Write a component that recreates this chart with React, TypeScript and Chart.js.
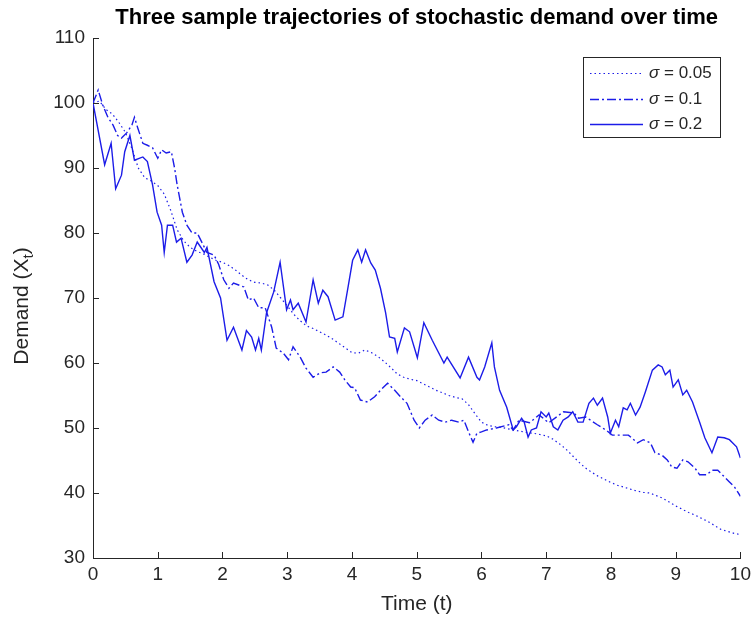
import React, { useEffect, useRef } from 'react';
import { Chart, registerables } from 'chart.js';

Chart.register(...registerables);

const chartTitle = 'Three sample trajectories of stochastic demand over time';
const xLabel = 'Time (t)';
const yLabelMain = 'Demand (X';
const yLabelSub = 't';
const legendNames = ['0.05', '0.1', '0.2'];

const xTickValues = [0, 1, 2, 3, 4, 5, 6, 7, 8, 9, 10];
const yTickValues = [30, 40, 50, 60, 70, 80, 90, 100, 110];

// sigma = 0.05 (dotted)
const sigma005T = [0, 0.1, 0.2, 0.3, 0.4, 0.5, 0.6, 0.7, 0.8, 0.9, 1.0, 1.1, 1.2, 1.3, 1.4, 1.5, 1.6, 1.7, 1.8, 1.9, 2.0,
  2.1, 2.2, 2.3, 2.4, 2.5, 2.6, 2.7, 2.8, 2.9, 3.0, 3.1, 3.2, 3.3, 3.4, 3.5, 3.6, 3.7, 3.8, 3.9, 4.0,
  4.1, 4.2, 4.3, 4.4, 4.5, 4.6, 4.7, 4.8, 4.9, 5.0, 5.1, 5.2, 5.3, 5.4, 5.5, 5.6, 5.7, 5.8, 5.9, 6.0,
  6.1, 6.2, 6.3, 6.4, 6.5, 6.6, 6.7, 6.8, 6.9, 7.0, 7.1, 7.2, 7.3, 7.4, 7.5, 7.6, 7.7, 7.8, 7.9, 8.0,
  8.1, 8.2, 8.3, 8.4, 8.5, 8.6, 8.7, 8.8, 8.9, 9.0, 9.1, 9.2, 9.3, 9.4, 9.5, 9.6, 9.7, 9.8, 9.9, 10.0];
const sigma005V = [100, 100.3, 99, 98.3, 97, 95.5, 93, 90, 88.5, 88, 87.3, 86, 83.5, 80.5, 78.8, 77.8, 77.2, 76.8, 76.3, 75.8, 75.5,
  75, 74.3, 73.5, 72.8, 72.4, 72.3, 72, 71.2, 70, 68.8, 67.5, 66.5, 65.7, 65.3, 64.8, 64.3, 63.7, 63, 62.3, 61.6,
  61.5, 62, 61.6, 61, 60.2, 59.3, 58.3, 57.8, 57.5, 57.3, 56.8, 56.3, 55.8, 55.4, 55, 54.7, 54.5, 53.6, 52.2, 50.9,
  50.4, 50.2, 50.1, 49.9, 49.7, 49.5, 49.3, 49.2, 49.0, 48.8, 48.3, 47.6, 46.8, 45.8, 44.8, 43.9, 43.2, 42.6, 42.1, 41.6,
  41.2, 40.9, 40.6, 40.3, 40.1, 40, 39.6, 39.2, 38.6, 38, 37.5, 37, 36.6, 36.1, 35.6, 35, 34.4, 34.1, 33.8, 33.6];

// sigma = 0.1 (dash-dot)
const sigma01T = [0, 0.08, 0.15, 0.23, 0.31, 0.38, 0.44, 0.52, 0.6, 0.64, 0.69, 0.77, 0.84, 0.92, 1.0, 1.06, 1.13, 1.21,
  1.26, 1.3, 1.38, 1.45, 1.53, 1.61, 1.68, 1.76, 1.87, 1.94, 2.02, 2.1, 2.17, 2.25, 2.33, 2.4, 2.48, 2.56, 2.66,
  2.76, 2.83, 2.94, 3.02, 3.09, 3.2, 3.29, 3.4, 3.51, 3.6, 3.71, 3.81, 3.89, 3.98, 4.04, 4.13, 4.24, 4.35, 4.44,
  4.55, 4.66, 4.75, 4.85, 4.96, 5.04, 5.13, 5.24, 5.34, 5.44, 5.54, 5.65, 5.73, 5.8, 5.87, 5.93, 6.0, 6.08, 6.23,
  6.42, 6.49, 6.58, 6.74, 6.89, 7.04, 7.2, 7.27, 7.43, 7.5, 7.61, 7.79, 7.92, 8.02, 8.27, 8.41, 8.5, 8.61, 8.68,
  8.79, 8.87, 8.94, 9.02, 9.11, 9.19, 9.3, 9.37, 9.48, 9.56, 9.65, 9.72, 9.83, 9.91, 10.0];
const sigma01V = [100, 102, 99.7, 97.8, 96.6, 95, 94.6, 95.4, 96.6, 97.8, 96.2, 93.8, 93.5, 93.1, 91.5, 92.8, 92.3, 92.5,
  90, 87.4, 83.2, 81.2, 80, 80, 78.6, 77, 76.6, 75.2, 72.8, 71.5, 72.3, 72, 71.7, 69.7, 70, 68.5, 68.5,
  65.5, 62.3, 61.5, 60.5, 62.5, 60.9, 59.2, 57.8, 58.5, 58.6, 59.4, 58.6, 57.4, 56.3, 56.2, 54.3, 54, 54.8, 55.8,
  56.9, 55.8, 54.8, 53.8, 51.2, 50, 51.2, 52, 51.2, 50.9, 51.2, 50.9, 51.2, 49.4, 47.8, 49.2, 49.4, 49.7, 50,
  50.5, 49.7, 51.2, 50.8, 52, 50.8, 52, 52.5, 52.3, 51.5, 51.7, 50.5, 49.7, 48.9, 48.9, 47.7, 48.2, 47.7, 46.2,
  45.8, 45.1, 44, 43.8, 45.1, 44.8, 43.8, 42.8, 42.8, 43.5, 43.5, 42.8, 41.7, 40.9, 39.5];

// sigma = 0.2 (solid)
const sigma02T = [0, 0.18, 0.28, 0.35, 0.44, 0.49, 0.57, 0.64, 0.77, 0.84, 0.92, 0.99, 1.06, 1.1, 1.15, 1.23, 1.29, 1.36,
  1.45, 1.53, 1.61, 1.72, 1.76, 1.87, 1.97, 2.07, 2.17, 2.3, 2.37, 2.45, 2.51, 2.56, 2.6, 2.68, 2.79, 2.89, 2.99,
  3.05, 3.09, 3.17, 3.29, 3.4, 3.48, 3.55, 3.63, 3.74, 3.86, 3.94, 4.01, 4.09, 4.15, 4.21, 4.29, 4.36, 4.44, 4.52,
  4.58, 4.66, 4.7, 4.81, 4.89, 5.01, 5.11, 5.24, 5.42, 5.47, 5.67, 5.8, 5.93, 5.97, 6.05, 6.16, 6.2, 6.28, 6.39,
  6.49, 6.54, 6.62, 6.66, 6.72, 6.77, 6.85, 6.92, 7.0, 7.04, 7.11, 7.18, 7.26, 7.34, 7.41, 7.49, 7.57, 7.66, 7.73,
  7.79, 7.87, 7.95, 7.99, 8.07, 8.12, 8.19, 8.25, 8.3, 8.38, 8.45, 8.53, 8.64, 8.73, 8.79, 8.84, 8.91, 8.96, 9.04,
  9.11, 9.17, 9.26, 9.37, 9.45, 9.56, 9.65, 9.75, 9.83, 9.94, 10.0];
const sigma02V = [100, 90.5, 93.8, 86.8, 88.9, 92.5, 95, 91.2, 91.7, 91, 87.4, 83.2, 81.2, 77, 81.2, 81.2, 78.6, 79.2,
  75.5, 76.6, 78.6, 77, 77.8, 72.5, 70, 63.5, 65.5, 62, 65, 64, 62, 63.8, 62, 67.7, 70.9, 75.5, 68.2,
  69.7, 68.2, 69.2, 66.3, 72.8, 69.2, 71.2, 70.2, 66.6, 67.1, 71.7, 75.8, 77.4, 75.5, 77.4, 75.4, 74.3, 71.5, 67.7,
  64, 63.8, 61.7, 65.4, 64.8, 60.8, 66.2, 63.5, 60, 60.9, 57.7, 60.9, 57.8, 57.4, 59.4, 63.1, 59.4, 55.8, 53.2,
  49.7, 50.2, 51.5, 50.9, 48.6, 49.7, 50, 52.5, 51.7, 52.3, 50.2, 49.7, 51.2, 51.7, 52.5, 50.9, 50.9, 53.8, 54.6,
  53.5, 54.6, 51.7, 49.2, 51.2, 50.2, 53.1, 52.8, 53.8, 52, 53.2, 55.5, 58.9, 59.7, 59.4, 58.2, 58.9, 56.3, 57.4,
  55.1, 55.8, 54, 50.9, 48.5, 46.2, 48.6, 48.5, 48.2, 47.1, 45.4];

const LINE_COLOR = 'rgb(28, 28, 232)';
const AXIS_COLOR = '#262626';
const FONT = '"Liberation Sans", Arial, sans-serif';

const toPoints = (ts: number[], vs: number[]) => ts.map((t, i) => ({ x: t, y: vs[i] }));

const dashes: number[][] = [[1.5, 3], [9, 3, 2, 3], []];
const widths = [1.2, 1.4, 1.4];

const decorPlugin = {
  id: 'decor',
  afterDraw(chart: any) {
    const { ctx, chartArea } = chart;
    const xs = chart.scales.x;
    const ys = chart.scales.y;
    ctx.save();
    // inward tick marks
    ctx.strokeStyle = AXIS_COLOR;
    ctx.lineWidth = 1;
    ctx.beginPath();
    xTickValues.forEach((v) => {
      const px = Math.round(xs.getPixelForValue(v)) + 0.5;
      ctx.moveTo(px, chartArea.bottom);
      ctx.lineTo(px, chartArea.bottom - 6);
    });
    yTickValues.forEach((v) => {
      const py = Math.round(ys.getPixelForValue(v)) + 0.5;
      ctx.moveTo(chartArea.left, py);
      ctx.lineTo(chartArea.left + 6, py);
    });
    ctx.stroke();

    const cx = (chartArea.left + chartArea.right) / 2;
    // title
    ctx.fillStyle = '#000';
    ctx.font = 'bold 22px ' + FONT;
    ctx.textAlign = 'center';
    ctx.textBaseline = 'middle';
    ctx.fillText(chartTitle, cx, 18);

    // x label
    ctx.fillStyle = AXIS_COLOR;
    ctx.font = '21px ' + FONT;
    ctx.fillText(xLabel, cx, 604);

    // y label with subscript
    ctx.save();
    ctx.translate(22, (chartArea.top + chartArea.bottom) / 2 + 8);
    ctx.rotate(-Math.PI / 2);
    ctx.font = '21px ' + FONT;
    const wMain = ctx.measureText(yLabelMain).width;
    ctx.font = '15px ' + FONT;
    const wSub = ctx.measureText(yLabelSub).width;
    ctx.font = '21px ' + FONT;
    const total = wMain + wSub + ctx.measureText(')').width;
    let sx = -total / 2;
    ctx.textAlign = 'left';
    ctx.fillText(yLabelMain, sx, 0);
    sx += wMain;
    ctx.font = '15px ' + FONT;
    ctx.fillText(yLabelSub, sx, 7);
    sx += wSub;
    ctx.font = '21px ' + FONT;
    ctx.fillText(')', sx, 0);
    ctx.restore();

    // legend
    const lx = 583, ly = 57, lw = 137, lh = 80;
    ctx.fillStyle = '#fff';
    ctx.fillRect(lx, ly, lw, lh);
    ctx.strokeStyle = AXIS_COLOR;
    ctx.lineWidth = 1;
    ctx.setLineDash([]);
    ctx.strokeRect(lx + 0.5, ly + 0.5, lw, lh);
    const rowYs = [73, 99, 124];
    chart.data.datasets.forEach((ds: any, i: number) => {
      const y = rowYs[i];
      ctx.strokeStyle = ds.borderColor;
      ctx.lineWidth = ds.borderWidth;
      ctx.setLineDash(ds.borderDash || []);
      ctx.beginPath();
      ctx.moveTo(lx + 7, y + 0.5);
      ctx.lineTo(lx + 60, y + 0.5);
      ctx.stroke();
      ctx.setLineDash([]);
      ctx.fillStyle = AXIS_COLOR;
      ctx.textAlign = 'left';
      ctx.textBaseline = 'middle';
      ctx.font = 'italic 17px ' + FONT;
      ctx.fillText('\u03c3', lx + 66, y);
      const ws = ctx.measureText('\u03c3').width;
      ctx.font = '17px ' + FONT;
      ctx.fillText(' = ' + legendNames[i], lx + 66 + ws, y);
    });
    ctx.restore();
  },
};

export default function App() {
  const canvasRef = useRef<HTMLCanvasElement | null>(null);

  useEffect(() => {
    const canvas = canvasRef.current;
    if (!canvas) return;
    const chart = new Chart(canvas, {
      type: 'line',
      data: {
        datasets: [
          { label: 'sigma 0.05', data: toPoints(sigma005T, sigma005V), borderColor: LINE_COLOR, borderWidth: widths[0], borderDash: dashes[0], pointRadius: 0, tension: 0, fill: false },
          { label: 'sigma 0.1', data: toPoints(sigma01T, sigma01V), borderColor: LINE_COLOR, borderWidth: widths[1], borderDash: dashes[1], pointRadius: 0, tension: 0, fill: false },
          { label: 'sigma 0.2', data: toPoints(sigma02T, sigma02V), borderColor: LINE_COLOR, borderWidth: widths[2], borderDash: dashes[2], pointRadius: 0, tension: 0, fill: false },
        ],
      },
      options: {
        animation: false,
        responsive: false,
        maintainAspectRatio: false,
        layout: { padding: { left: 0, top: 38, right: 10, bottom: 0 } },
        plugins: {
          legend: { display: false },
          tooltip: { enabled: false },
          title: { display: false },
        },
        scales: {
          x: {
            type: 'linear',
            min: 0,
            max: 10,
            afterFit: (s: any) => { s.height = 61; },
            afterBuildTicks: (s: any) => { s.ticks = xTickValues.map((v) => ({ value: v })); },
            ticks: { color: AXIS_COLOR, font: { family: FONT, size: 19 }, padding: 5, maxRotation: 0 },
            grid: { display: false, drawTicks: false },
            border: { display: true, color: AXIS_COLOR, width: 1 },
          },
          y: {
            type: 'linear',
            min: 30,
            max: 110,
            afterFit: (s: any) => { s.width = 93; },
            afterBuildTicks: (s: any) => { s.ticks = yTickValues.map((v) => ({ value: v })); },
            ticks: { color: AXIS_COLOR, font: { family: FONT, size: 19 }, padding: 8 },
            grid: { display: false, drawTicks: false },
            border: { display: true, color: AXIS_COLOR, width: 1 },
          },
        },
      },
      plugins: [decorPlugin],
    } as any);
    return () => chart.destroy();
  }, []);

  return (
    <div style={{ position: 'absolute', left: 0, top: 0, width: 756, height: 619, background: '#fff' }}>
      <canvas ref={canvasRef} width={756} height={619} style={{ width: 756, height: 619, display: 'block' }} />
    </div>
  );
}
